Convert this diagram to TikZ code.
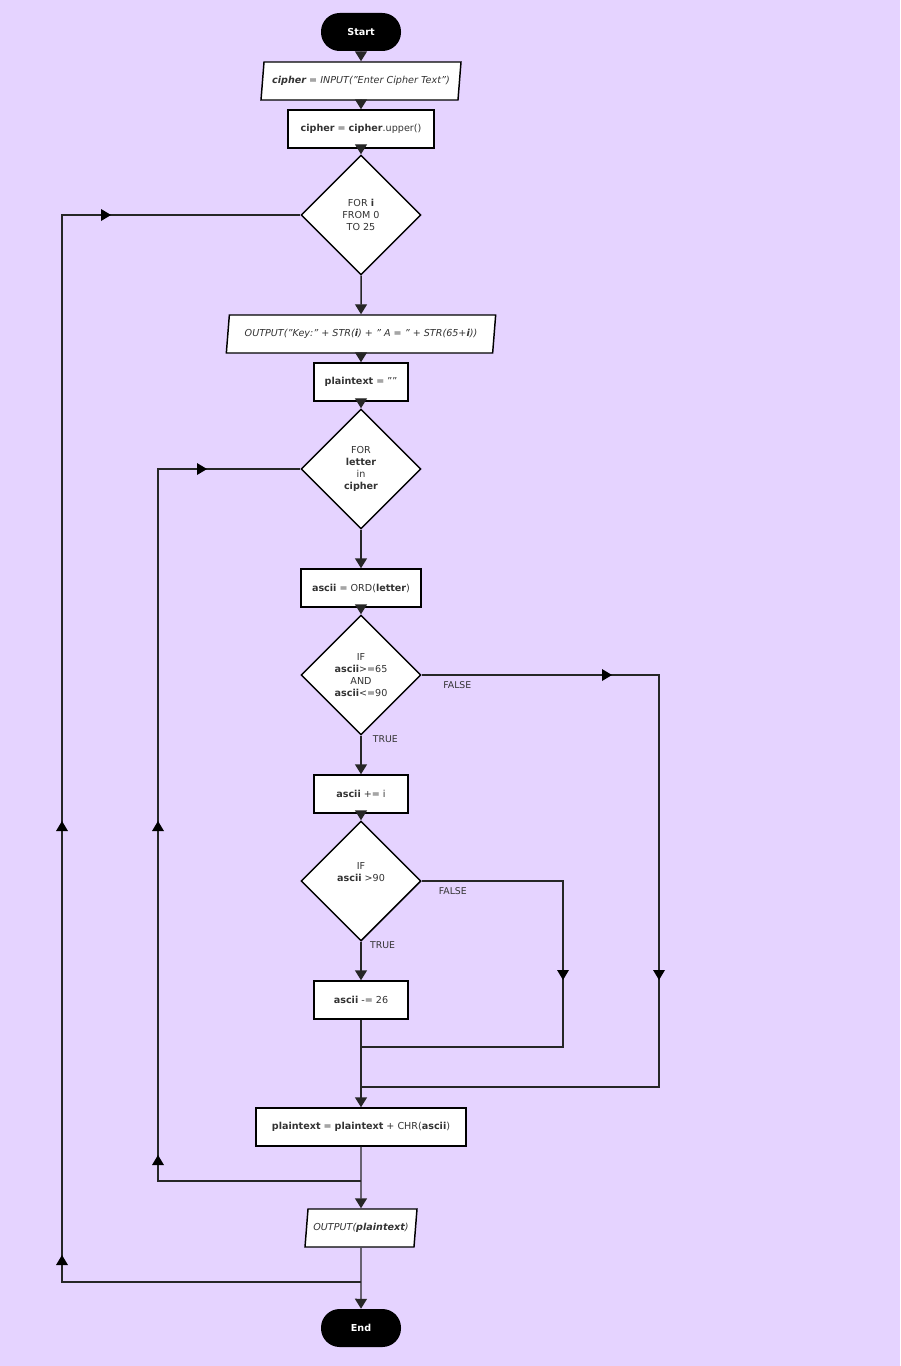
\documentclass[tikz,border=0pt]{standalone}
\usepackage{fontspec}
\setmainfont{DejaVu Sans}
\usetikzlibrary{shapes.geometric,arrows.meta}
\definecolor{bg}{HTML}{E5D3FF}
\definecolor{tx}{HTML}{333333}
\newcommand{\mkD}[2]{\fill (#1-6,#2-10)--(#1+6,#2-10)--(#1,#2)--cycle;}
\newcommand{\mkU}[2]{\fill (#1-6,#2+10)--(#1+6,#2+10)--(#1,#2)--cycle;}
\newcommand{\mkR}[2]{\fill (#1-10,#2-6)--(#1-10,#2+6)--(#1,#2)--cycle;}
\begin{document}
\begin{tikzpicture}[x=0.75pt,y=-0.75pt,
  every node/.style={font=\fontsize{7.2}{9}\selectfont, text=tx},
  base/.style={draw=black, line width=1.1pt, fill=white, align=center, inner sep=0pt},
  box/.style={base, rectangle, minimum height=28.5pt},
  term/.style={rectangle, rounded corners=14pt, fill=black, text=white, minimum width=60pt, minimum height=28.5pt, font=\fontsize{7.2}{9}\selectfont\bfseries},
  io/.style={base, trapezium, trapezium left angle=72, trapezium right angle=108, trapezium stretches body, minimum height=28.5pt, font=\fontsize{7.2}{9}\selectfont\itshape},
  dec/.style={base, diamond, minimum width=90pt, minimum height=90pt, aspect=1},
  ln/.style={line width=1.1pt, draw=black!85},
  ar/.style={ln, -{Triangle[width=9pt,length=7.5pt]}},
  lab/.style={font=\fontsize{7}{9}\selectfont}]
\fill[bg] (0,0) rectangle (900,1366);
\node[term] (start) at (361,32) {Start};
\node[io, minimum width=150pt] (in) at (361,81) {\textbf{cipher} = INPUT("Enter Cipher Text")};
\node[box, minimum width=109.5pt] (up) at (361,129) {\textbf{cipher} = \textbf{cipher}.upper()};
\node[dec] (d1) at (361,215) {FOR \textbf{i}\\FROM 0\\TO 25};
\node[io, minimum width=202pt] (out1) at (361,334) {OUTPUT("Key:" + STR(\textbf{i}) + " A = " + STR(65+\textbf{i}))};
\node[box, minimum width=70.5pt] (pt0) at (361,382) {\textbf{plaintext} = ""};
\node[dec] (d2) at (361,469) {FOR\\\textbf{letter}\\in\\\textbf{cipher}};
\node[box, minimum width=90pt] (ord) at (361,588) {\textbf{ascii} = ORD(\textbf{letter})};
\node[dec] (d3) at (361,675) {IF\\\textbf{ascii}>=65\\AND\\\textbf{ascii}<=90};
\node[box, minimum width=70.5pt] (add) at (361,794) {\textbf{ascii} += i};
\node[dec] (d4) at (361,881) {IF\\\textbf{ascii} >90\\[5pt]};
\node[box, minimum width=70.5pt] (sub) at (361,1000) {\textbf{ascii} -= 26};
\node[box, minimum width=157.5pt] (cat) at (361,1127) {\textbf{plaintext} = \textbf{plaintext} + CHR(\textbf{ascii})};
\node[io, minimum width=84pt] (out2) at (361,1228) {OUTPUT(\textbf{plaintext})};
\node[term] (end) at (361,1328) {End};
\coordinate (j4) at (361,1047);
\coordinate (j3) at (361,1087);
\coordinate (j2) at (361,1181);
\coordinate (j1) at (361,1282);

\draw[ar] (start) -- (in);
\draw[ar] (in) -- (up);
\draw[ar] (up) -- (d1);
\draw[ar] (d1) -- (out1);
\draw[ar] (out1) -- (pt0);
\draw[ar] (pt0) -- (d2);
\draw[ar] (d2) -- (ord);
\draw[ar] (ord) -- (d3);
\draw[ar] (d3) -- node[lab, right, pos=0.1, xshift=5pt]{TRUE} (add);
\draw[ar] (add) -- (d4);
\draw[ar] (d4) -- node[lab, right, pos=0.1, xshift=3pt]{TRUE} (sub);
\draw[ar] (sub) -- (cat);
\draw[ar] (cat) -- (out2);
\draw[ar] (out2) -- (end);
% false branches
\draw[ln] (d3.east) -- node[lab, below, pos=0.15, yshift=-1pt]{FALSE} (659,675) -- (659,1087) -- (j3);
\mkR{612}{675} \mkD{659}{980}
\draw[ln] (d4.east) -- node[lab, below, pos=0.22, yshift=-1pt]{FALSE} (563,881) -- (563,1047) -- (j4);
\mkD{563}{980}
% loops
\draw[ln] (j2) -- (158,1181) -- (158,469) -- (d2.west);
\mkU{158}{1155} \mkU{158}{821} \mkR{207}{469}
\draw[ln] (j1) -- (62,1282) -- (62,215) -- (d1.west);
\mkU{62}{1255} \mkU{62}{821} \mkR{111}{215}
\end{tikzpicture}
\end{document}
